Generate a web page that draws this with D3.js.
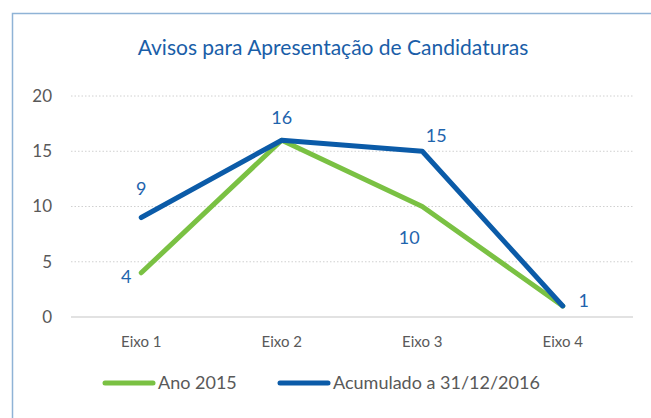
<!DOCTYPE html>
<html>
<head>
<meta charset="utf-8">
<script src="https://cdn.jsdelivr.net/npm/d3@7"></script>
<style>
  body { margin: 0; background: #fff; }
  text { font-family: Lato, "Open Sans", sans-serif; }
</style>
</head>
<body>
<svg id="chart" width="651" height="418"></svg>
<script>
const categories = ["Eixo 1", "Eixo 2", "Eixo 3", "Eixo 4"];
const ano2015 = [4, 16, 10, 1];
const acumulado = [9, 16, 15, 1];
const yTicks = [0, 5, 10, 15, 20];
const seriesNames = ["Ano 2015", "Acumulado a 31/12/2016"];

const green = "#7ac143", blue = "#0b5ba8", labelBlue = "#1f64ad", grey = "#595959";

const svg = d3.select("#chart");
const margin = {top: 96, left: 71, right: 18, bottom: 101};
const width = 651 - margin.left - margin.right;
const height = 418 - margin.top - margin.bottom;

// frame
svg.append("path")
	.attr("d", "M12.5,418 L12.5,13.5 L651,13.5")
	.attr("fill", "none")
	.attr("stroke", "#8fb3d6")
	.attr("stroke-width", 1.5);

svg.append("text")
	.attr("x", 333).attr("y", 55)
	.attr("text-anchor", "middle")
	.style("font-size", "21px")
	.style("fill", "#1a5ea8")
	.text("Avisos para Apresentação de Candidaturas");

const x = d3.scaleBand().domain(categories).range([0, width]);
const y = d3.scaleLinear().domain([0, 20]).range([height, 0]);

const g = svg.append("g").attr("transform", "translate(" + margin.left + "," + margin.top + ")");

// gridlines
g.selectAll(".grid").data(yTicks.filter(d => d > 0)).enter()
	.append("line")
	.attr("x1", 0).attr("x2", width)
	.attr("y1", d => y(d)).attr("y2", d => y(d))
	.attr("stroke", "#d0d0d0")
	.attr("stroke-width", 1)
	.attr("stroke-dasharray", "1.5,2");

g.append("line")
	.attr("x1", 0).attr("x2", width)
	.attr("y1", y(0)).attr("y2", y(0))
	.attr("stroke", "#d9d9d9").attr("stroke-width", 1.5);

// y tick labels
g.selectAll(".ylab").data(yTicks).enter()
	.append("text")
	.attr("x", -19).attr("y", d => y(d))
	.attr("dy", "0.35em")
	.attr("text-anchor", "end")
	.style("font-size", "17px")
	.style("fill", grey)
	.text(d => d);

// x tick labels
g.selectAll(".xlab").data(categories).enter()
	.append("text")
	.attr("x", d => x(d) + x.bandwidth() / 2)
	.attr("y", height + 30)
	.attr("text-anchor", "middle")
	.style("font-size", "15px")
	.style("fill", grey)
	.text(d => d);

const line = d3.line()
	.x((d, i) => x(categories[i]) + x.bandwidth() / 2)
	.y(d => y(d));

g.append("path").datum(ano2015)
	.attr("d", line)
	.attr("fill", "none").attr("stroke", green)
	.attr("stroke-width", 5).attr("stroke-linecap", "round").attr("stroke-linejoin", "round");

g.append("path").datum(acumulado)
	.attr("d", line)
	.attr("fill", "none").attr("stroke", blue)
	.attr("stroke-width", 5).attr("stroke-linecap", "round").attr("stroke-linejoin", "round");

// data labels
const cx = i => x(categories[i]) + x.bandwidth() / 2;
const labels = [
	{v: acumulado[0], i: 0, dx: 0, dy: -29},
	{v: acumulado[1], i: 1, dx: 0, dy: -23},
	{v: acumulado[2], i: 2, dx: 14, dy: -16},
	{v: ano2015[0], i: 0, dx: -15, dy: 4},
	{v: ano2015[2], i: 2, dx: -13, dy: 31},
	{v: acumulado[3], i: 3, dx: 21, dy: -5}
];
g.selectAll(".dlab").data(labels).enter()
	.append("text")
	.attr("x", d => cx(d.i) + d.dx)
	.attr("y", d => y(d.v) + d.dy)
	.attr("text-anchor", "middle")
	.attr("dy", "0.35em")
	.style("font-size", "18px")
	.style("fill", labelBlue)
	.text(d => d.v);

// legend
const legend = svg.append("g").attr("transform", "translate(0,383)");
const legItems = [
	{name: seriesNames[0], color: green, x0: 105},
	{name: seriesNames[1], color: blue, x0: 280}
];
legItems.forEach(d => {
	legend.append("line")
		.attr("x1", d.x0).attr("x2", d.x0 + 48)
		.attr("y1", 0).attr("y2", 0)
		.attr("stroke", d.color).attr("stroke-width", 5)
		.attr("stroke-linecap", "round");
	legend.append("text")
		.attr("x", d.x0 + 53).attr("y", 0)
		.attr("dy", "0.35em")
		.style("font-size", "18px")
		.style("fill", grey)
		.text(d.name);
});
</script>
</body>
</html>
